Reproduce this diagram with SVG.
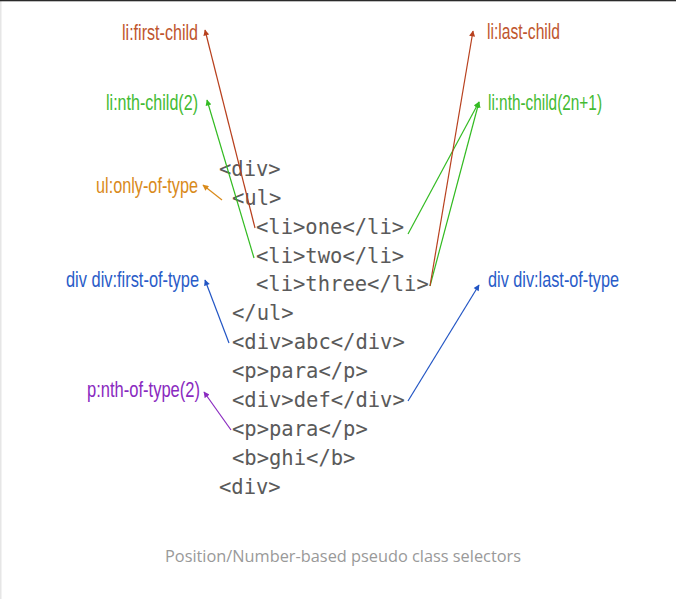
<svg xmlns="http://www.w3.org/2000/svg" width="676" height="599" viewBox="0 0 676 599">
<style>
.code{font-family:"DejaVu Sans Mono","Liberation Mono",monospace;font-size:20.5px;fill:#5a5a5a}
.lbl{font-family:"Liberation Sans Narrow","Liberation Sans",sans-serif;font-size:21.5px}
.cap{font-family:"Open Sans","Noto Sans",sans-serif;font-size:16.5px;fill:#999999}
.ln{fill:none;stroke-width:1.2}
</style>
<defs>
<marker id="mRed" viewBox="0 0 10 10" refX="9" refY="5" markerWidth="7" markerHeight="6" markerUnits="userSpaceOnUse" orient="auto"><path d="M0,0 L10,5 L0,10 z" fill="#b8401e"/></marker>
<marker id="mGreen" viewBox="0 0 10 10" refX="9" refY="5" markerWidth="7" markerHeight="6" markerUnits="userSpaceOnUse" orient="auto"><path d="M0,0 L10,5 L0,10 z" fill="#33bb22"/></marker>
<marker id="mOrange" viewBox="0 0 10 10" refX="9" refY="5" markerWidth="7" markerHeight="6" markerUnits="userSpaceOnUse" orient="auto"><path d="M0,0 L10,5 L0,10 z" fill="#d98a1a"/></marker>
<marker id="mBlue" viewBox="0 0 10 10" refX="9" refY="5" markerWidth="7" markerHeight="6" markerUnits="userSpaceOnUse" orient="auto"><path d="M0,0 L10,5 L0,10 z" fill="#2255c4"/></marker>
<marker id="mPurple" viewBox="0 0 10 10" refX="9" refY="5" markerWidth="7" markerHeight="6" markerUnits="userSpaceOnUse" orient="auto"><path d="M0,0 L10,5 L0,10 z" fill="#8a2ac0"/></marker>
</defs>
<rect x="0" y="0" width="676" height="599" fill="#ffffff"/>
<rect x="0" y="0" width="1.5" height="599" fill="#e6e6e6"/>
<rect x="0" y="0" width="676" height="1.3" fill="#2a2a2a"/>

<g id="code">
<text class="code" x="219" y="176">&lt;div&gt;</text>
<text class="code" x="232" y="205">&lt;ul&gt;</text>
<text class="code" x="256" y="234">&lt;li&gt;one&lt;/li&gt;</text>
<text class="code" x="256" y="263">&lt;li&gt;two&lt;/li&gt;</text>
<text class="code" x="256" y="291">&lt;li&gt;three&lt;/li&gt;</text>
<text class="code" x="232" y="320">&lt;/ul&gt;</text>
<text class="code" x="232" y="349">&lt;div&gt;abc&lt;/div&gt;</text>
<text class="code" x="232" y="378">&lt;p&gt;para&lt;/p&gt;</text>
<text class="code" x="232" y="407">&lt;div&gt;def&lt;/div&gt;</text>
<text class="code" x="232" y="436">&lt;p&gt;para&lt;/p&gt;</text>
<text class="code" x="232" y="465">&lt;b&gt;ghi&lt;/b&gt;</text>
<text class="code" x="219" y="494">&lt;div&gt;</text>
</g>

<g id="label-first-child"><text class="lbl" x="122" y="40" fill="#c0562e" textLength="76" lengthAdjust="spacingAndGlyphs">li:first-child</text></g>
<g id="label-nth-child-2"><text class="lbl" x="106" y="110" fill="#44bb33" textLength="92" lengthAdjust="spacingAndGlyphs">li:nth-child(2)</text></g>
<g id="label-only-of-type"><text class="lbl" x="96" y="193" fill="#d98a1a" textLength="102" lengthAdjust="spacingAndGlyphs">ul:only-of-type</text></g>
<g id="label-first-of-type"><text class="lbl" x="66" y="287" fill="#2a5cc8" textLength="133" lengthAdjust="spacingAndGlyphs">div div:first-of-type</text></g>
<g id="label-nth-of-type"><text class="lbl" x="87" y="397" fill="#8a2ac0" textLength="113" lengthAdjust="spacingAndGlyphs">p:nth-of-type(2)</text></g>
<g id="label-last-child"><text class="lbl" x="487" y="39" fill="#c0562e" textLength="73" lengthAdjust="spacingAndGlyphs">li:last-child</text></g>
<g id="label-nth-child-2n1"><text class="lbl" x="488" y="110" fill="#44bb33" textLength="114" lengthAdjust="spacingAndGlyphs">li:nth-child(2n+1)</text></g>
<g id="label-last-of-type"><text class="lbl" x="488" y="287" fill="#2a5cc8" textLength="131" lengthAdjust="spacingAndGlyphs">div div:last-of-type</text></g>

<g id="connectors">
<line class="ln" x1="255" y1="228" x2="205" y2="30" stroke="#b8401e" marker-end="url(#mRed)"/>
<line class="ln" x1="254" y1="258" x2="207" y2="100" stroke="#33bb22" marker-end="url(#mGreen)"/>
<line class="ln" x1="222" y1="200" x2="203" y2="185" stroke="#d98a1a" marker-end="url(#mOrange)"/>
<line class="ln" x1="408" y1="234" x2="479" y2="102" stroke="#33bb22" marker-end="url(#mGreen)"/>
<line class="ln" x1="430" y1="286" x2="479" y2="102" stroke="#33bb22" marker-end="url(#mGreen)"/>
<line class="ln" x1="430" y1="286" x2="473" y2="31" stroke="#b8401e" marker-end="url(#mRed)"/>
<line class="ln" x1="229" y1="343" x2="205" y2="280" stroke="#2255c4" marker-end="url(#mBlue)"/>
<line class="ln" x1="408" y1="401" x2="479" y2="285" stroke="#2255c4" marker-end="url(#mBlue)"/>
<line class="ln" x1="231" y1="430" x2="204" y2="392" stroke="#8a2ac0" marker-end="url(#mPurple)"/>
</g>

<g id="caption"><text class="cap" x="165" y="562" textLength="356" lengthAdjust="spacingAndGlyphs">Position/Number-based pseudo class selectors</text></g>
</svg>
